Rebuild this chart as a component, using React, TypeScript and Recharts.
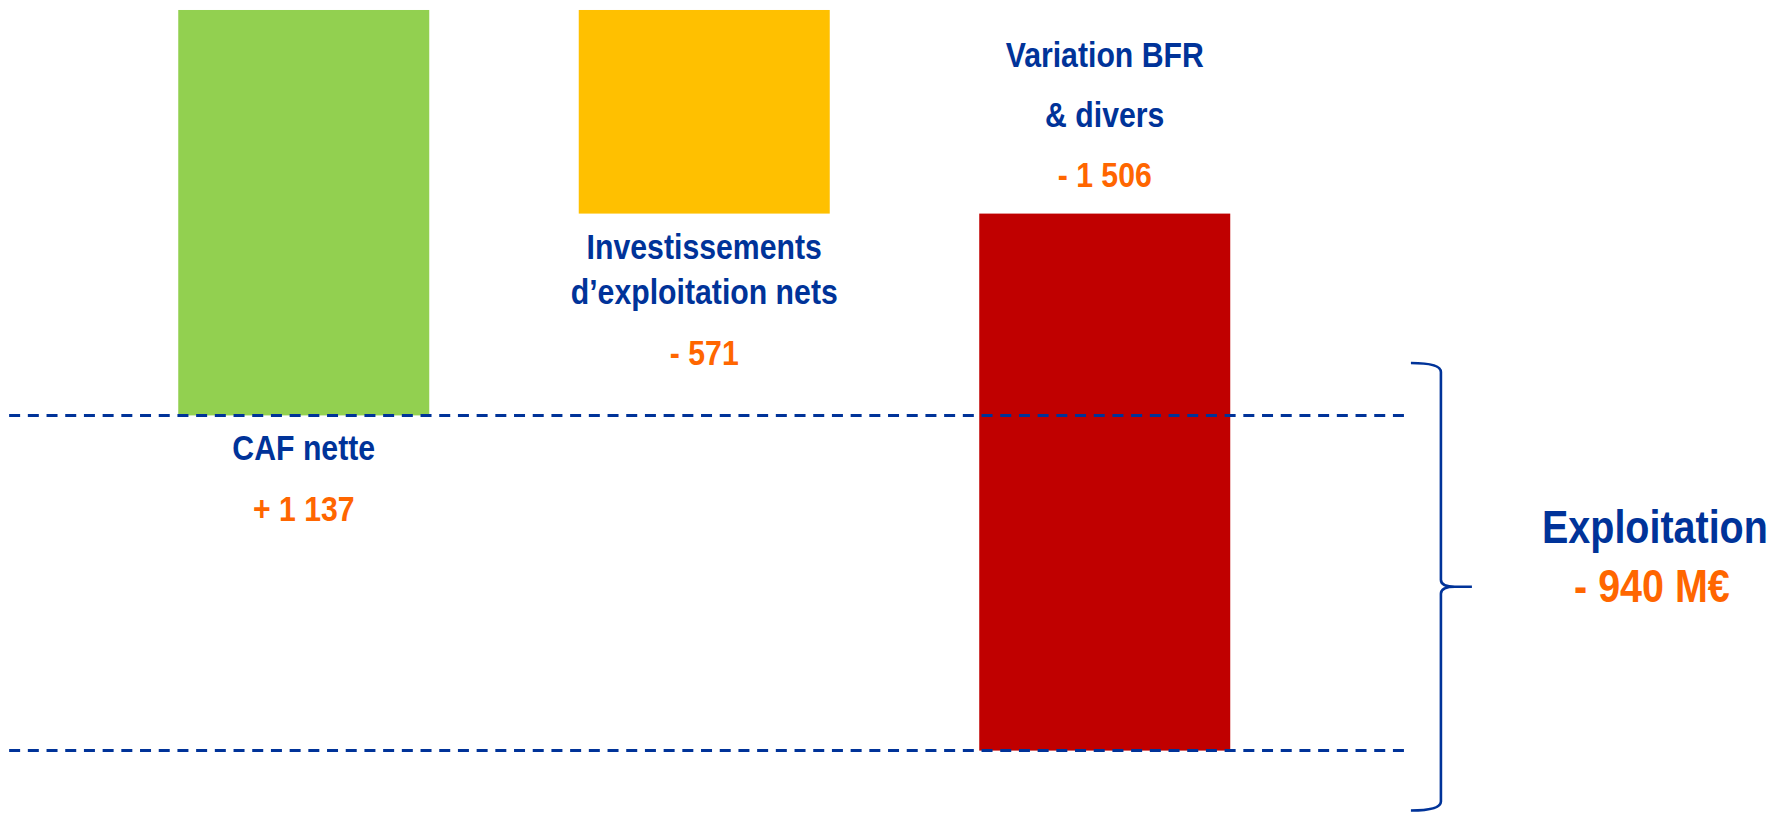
import React from "react";
import { ComposedChart, Bar, XAxis, YAxis, ReferenceLine } from "recharts";

// Pont de trésorerie - flux d'exploitation (M€)
const categoryLines: string[][] = [
  ["CAF nette"],
  ["Investissements", "d’exploitation nets"],
  ["Variation BFR", "& divers"],
];
const values = [1137, -571, -1506];
const barColors = ["#92D050", "#FFC000", "#C00000"];
const labelSide = ["below", "below", "above"];
const totalLabel = "Exploitation";
const totalUnit = "M€";

const NAVY = "#003399";
const ORANGE = "#FF6600";
const FONT = "'Liberation Sans', Arial, sans-serif";
const SQUEEZE = 0.84;

const W = 1769;
const H = 813;

// axis domains (data units), picked so the picture lines up with the original
const X_DOMAIN: [number, number] = [0.2422, 4.6592];
const Y_DOMAIN: [number, number] = [-1115, 1165];

// running totals -> floating bars
const total = values.reduce((a, b) => a + b, 0);
const data = values.map((v, i) => {
  const start = values.slice(0, i).reduce((a, b) => a + b, 0);
  const end = start + v;
  return {
    idx: i + 1,
    lines: categoryLines[i],
    value: v,
    range: [Math.min(start, end), Math.max(start, end)],
    color: barColors[i],
    side: labelSide[i],
  };
});

function fmt(v: number, withPlus = true) {
  const abs = Math.abs(v).toString().replace(/\B(?=(\d{3})+(?!\d))/g, " ");
  if (v < 0) return "- " + abs;
  return withPlus ? "+ " + abs : abs;
}

function SqText({ x, y, fill, size, children }: any) {
  return (
    <text
      transform={`translate(${x},${y}) scale(${SQUEEZE},1)`}
      textAnchor="middle"
      fill={fill}
      fontSize={size}
      fontWeight="bold"
      fontFamily={FONT}
    >
      {children}
    </text>
  );
}

const BarWithLabel = (props: any) => {
  const { x, y, width, height, payload } = props;
  const cx = x + width / 2;
  const lines: string[] = payload.lines;
  const out: React.ReactNode[] = [];
  if (payload.side === "below") {
    let by = y + height + 45;
    lines.forEach((l, i) => {
      out.push(<SqText key={"n" + i} x={cx} y={by} fill={NAVY} size={36}>{l}</SqText>);
      if (i < lines.length - 1) by += 45;
    });
    out.push(<SqText key="v" x={cx} y={by + 61} fill={ORANGE} size={36}>{fmt(payload.value)}</SqText>);
  } else {
    const vy = y - 27;
    out.push(<SqText key="v" x={cx} y={vy} fill={ORANGE} size={36}>{fmt(payload.value)}</SqText>);
    lines
      .slice()
      .reverse()
      .forEach((l, i) => {
        out.push(
          <SqText key={"n" + i} x={cx} y={vy - 60 * (i + 1)} fill={NAVY} size={36}>
            {l}
          </SqText>
        );
      });
  }
  return (
    <g>
      <rect x={x} y={y} width={width} height={height} fill={payload.color} />
      {out}
    </g>
  );
};

// curly brace + total text, drawn between the segment end points
const Brace = (props: any) => {
  const { x1, y1, y2 } = props;
  const top = Math.min(y1, y2);
  const bot = Math.max(y1, y2);
  const mid = (top + bot) / 2;
  const sx = x1;
  const d = [
    `M ${sx - 30} ${top}`,
    `Q ${sx} ${top} ${sx} ${top + 9}`,
    `L ${sx} ${mid - 7}`,
    `Q ${sx} ${mid} ${sx + 14} ${mid}`,
    `L ${sx + 31} ${mid}`,
    `M ${sx + 14} ${mid}`,
    `Q ${sx} ${mid} ${sx} ${mid + 7}`,
    `L ${sx} ${bot - 9}`,
    `Q ${sx} ${bot} ${sx - 30} ${bot}`,
  ].join(" ");
  return (
    <g>
      <path d={d} fill="none" stroke={NAVY} strokeWidth={2.6} strokeLinejoin="round" />
      <SqText x={sx + 214} y={mid - 44} fill={NAVY} size={47}>{totalLabel}</SqText>
      <SqText x={sx + 211} y={mid + 15} fill={ORANGE} size={47}>
        {fmt(total) + " " + totalUnit}
      </SqText>
    </g>
  );
};

export default function App() {
  return (
    <div style={{ position: "absolute", left: 0, top: 0, width: W, height: H, background: "#fff" }}>
      <ComposedChart width={W} height={H} data={data} margin={{ top: 0, right: 0, bottom: 0, left: 0 }}>
        <XAxis type="number" dataKey="idx" domain={X_DOMAIN} allowDataOverflow hide />
        <YAxis type="number" domain={Y_DOMAIN} allowDataOverflow hide />
        <Bar dataKey="range" barSize={251} shape={BarWithLabel} isAnimationActive={false} />
        <ReferenceLine
          segment={[{ x: 0.265, y: 0 }, { x: 3.748, y: 0 }]}
          stroke={NAVY}
          strokeWidth={3}
          strokeDasharray="11 7.7"
          ifOverflow="visible"
        />
        <ReferenceLine
          segment={[{ x: 0.265, y: total }, { x: 3.748, y: total }]}
          stroke={NAVY}
          strokeWidth={3}
          strokeDasharray="11 7.7"
          ifOverflow="visible"
        />
        <ReferenceLine
          segment={[{ x: 3.84, y: 147 }, { x: 3.84, y: -1108 }]}
          shape={Brace}
          ifOverflow="visible"
        />
      </ComposedChart>
    </div>
  );
}
